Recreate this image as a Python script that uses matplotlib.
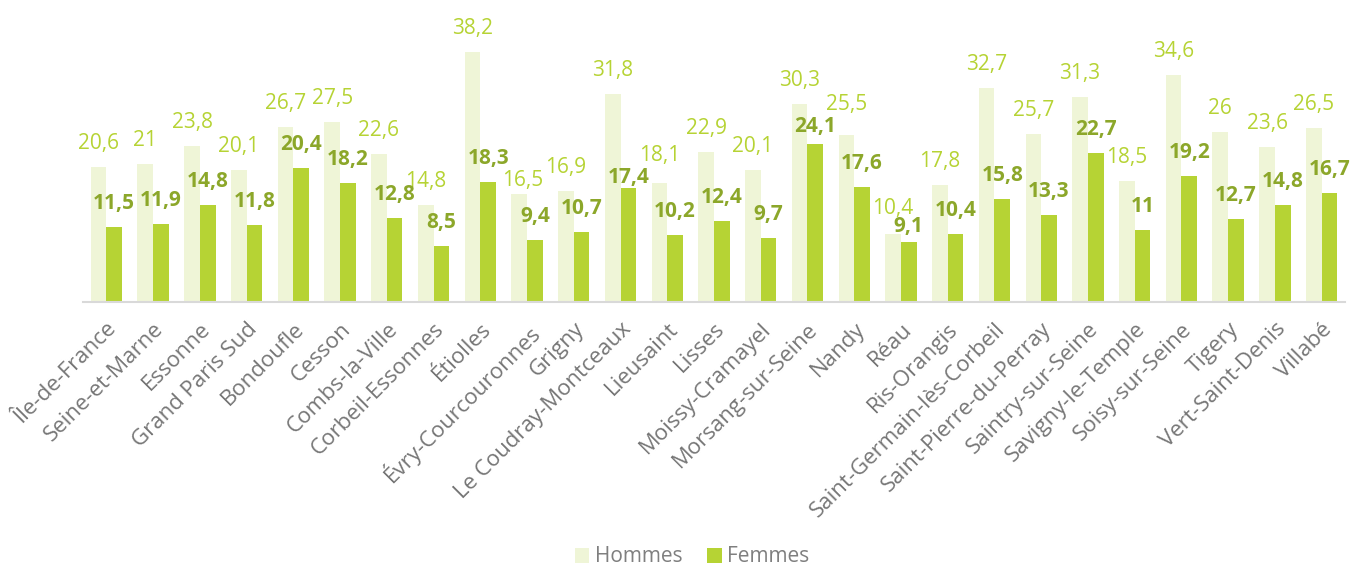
import matplotlib
import numpy as np

matplotlib.use("Agg")
import matplotlib.pyplot as plt

plt.rcParams["font.family"] = ["Open Sans", "DejaVu Sans"]

communes = [
    "Île-de-France", "Seine-et-Marne", "Essonne", "Grand Paris Sud", "Bondoufle",
    "Cesson", "Combs-la-Ville", "Corbeil-Essonnes", "Étiolles", "Évry-Courcouronnes",
    "Grigny", "Le Coudray-Montceaux", "Lieusaint", "Lisses", "Moissy-Cramayel",
    "Morsang-sur-Seine", "Nandy", "Réau", "Ris-Orangis", "Saint-Germain-lès-Corbeil",
    "Saint-Pierre-du-Perray", "Saintry-sur-Seine", "Savigny-le-Temple",
    "Soisy-sur-Seine", "Tigery", "Vert-Saint-Denis", "Villabé",
]
hommes = [20.6, 21, 23.8, 20.1, 26.7, 27.5, 22.6, 14.8, 38.2, 16.5, 16.9, 31.8,
          18.1, 22.9, 20.1, 30.3, 25.5, 10.4, 17.8, 32.7, 25.7, 31.3, 18.5, 34.6,
          26, 23.6, 26.5]
femmes = [11.5, 11.9, 14.8, 11.8, 20.4, 18.2, 12.8, 8.5, 18.3, 9.4, 10.7, 17.4,
          10.2, 12.4, 9.7, 24.1, 17.6, 9.1, 10.4, 15.8, 13.3, 22.7, 11, 19.2,
          12.7, 14.8, 16.7]

# hand-moved labels in the source chart (pixels, + = up)
nudge_h = {"Évry-Courcouronnes": (3, -10), "Lieusaint": (0, 4), "Nandy": (0, 7),
           "Réau": (0, 2)}
nudge_f = {"Le Coudray-Montceaux": (0, -13), "Morsang-sur-Seine": (0, -6),
           "Réau": (0, -8)}

C_H = "#EFF5D7"
C_F = "#B6D334"
C_HTXT = "#B6D334"
C_FTXT = "#8CA72A"
LABEL_GAP = 13  # px between bar top and label box


def fmt(v):
    s = f"{v:.1f}".rstrip("0").rstrip(".")
    return s.replace(".", ",")


fig = plt.figure(figsize=(13.64, 5.65), dpi=100)
ax = fig.add_axes([83 / 1364, 1 - 302 / 565, 1262 / 1364, 262 / 565])

x = np.arange(len(communes))
w = 0.335
bh = ax.bar(x - w / 2, hommes, w, color=C_H, label="Hommes")
bf = ax.bar(x + w / 2, femmes, w, color=C_F, label="Femmes")

for xi, name, v in zip(x, communes, hommes):
    dx, dy = nudge_h.get(name, (0, 0))
    ax.annotate(fmt(v), (xi - w / 2, v), xytext=(dx, LABEL_GAP + dy),
                textcoords="offset pixels", ha="center", va="bottom",
                fontsize=15, color=C_HTXT)
for xi, name, v in zip(x, communes, femmes):
    dx, dy = nudge_f.get(name, (0, 0))
    ax.annotate(fmt(v), (xi + w / 2, v), xytext=(dx, LABEL_GAP + dy),
                textcoords="offset pixels", ha="center", va="bottom",
                fontsize=15, color=C_FTXT, fontweight="bold")

ax.set_xlim(-0.5, len(communes) - 0.5)
ax.set_ylim(0, 40)
ax.set_yticks([])
ax.set_xticks(x)
ax.set_xticklabels(communes, rotation=45, ha="right", rotation_mode="anchor",
                   fontsize=16, color="#767676")
ax.tick_params(axis="x", length=0, pad=12)
for side in ("top", "right", "left"):
    ax.spines[side].set_visible(False)
ax.spines["bottom"].set_color("#D9D9D9")
ax.spines["bottom"].set_linewidth(1.5)

fig.legend(handles=[bh, bf], loc="center", bbox_to_anchor=(692 / 1364, 1 - 557 / 565),
           ncol=2, frameon=False, fontsize=15, labelcolor="#7F7F7F",
           handlelength=0.7, handleheight=0.7, handletextpad=0.25, columnspacing=1.2)

fig.savefig("out.png", dpi=100)
